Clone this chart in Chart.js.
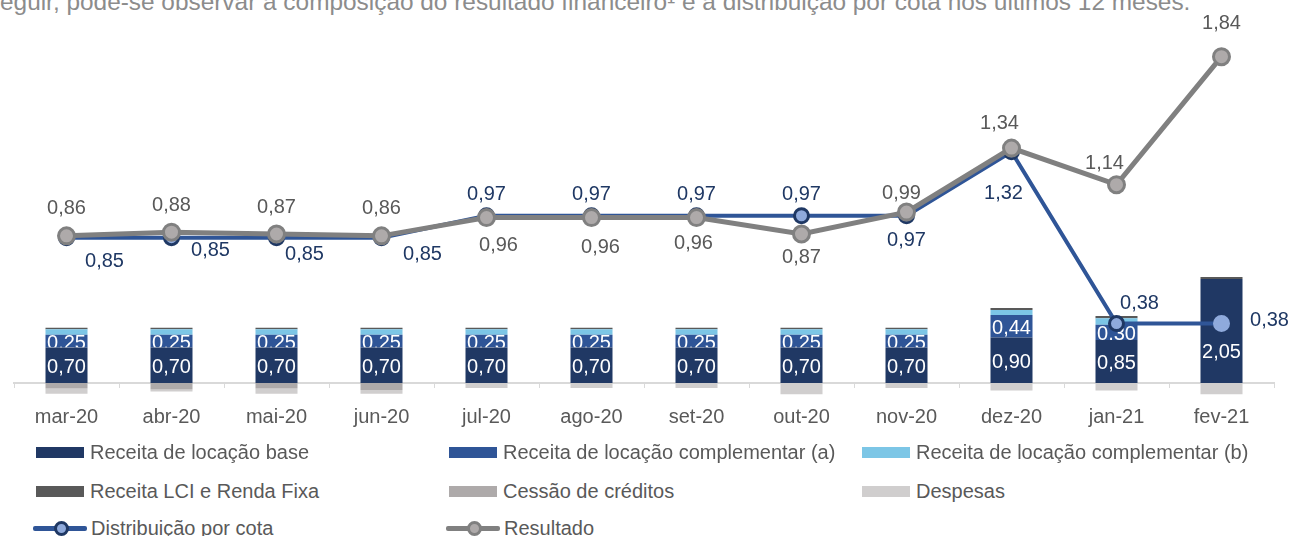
<!DOCTYPE html>
<html lang="pt-BR">
<head>
<meta charset="utf-8">
<title>Resultado financeiro e distribuição por cota</title>
<script src="https://cdn.jsdelivr.net/npm/chart.js@4.4.1/dist/chart.umd.min.js"></script>
<style>
  html, body { margin: 0; padding: 0; background: #fff; }
  body { width: 1293px; height: 536px; position: relative; overflow: hidden; font-family: "Liberation Sans", Arial, sans-serif; }
  #intro { position: absolute; left: 0; top: -12px; font-size: 24.4px; line-height: 28px; color: #8c8c8c; white-space: nowrap; }
  #chart { position: absolute; left: 0; top: 0; }
  .item { position: absolute; height: 24px; display: flex; align-items: center; font-size: 20px; color: #595959; white-space: nowrap; }
  .box { width: 48px; height: 11px; margin-right: 6px; }
  .lineKey { position: relative; width: 54px; height: 16px; margin-right: 4px; }
  .lineKey .bar { position: absolute; left: 0; right: 0; top: 6px; height: 5px; border-radius: 2px; }
  .lineKey .dot { position: absolute; left: 21px; top: 1px; width: 9px; height: 9px; border-radius: 50%; border: 3px solid; }
</style>
</head>
<body>
<div id="intro">eguir, pode-se observar a composição do resultado financeiro¹ e a distribuição por cota nos últimos 12 meses.</div>
<canvas id="chart" width="1293" height="450"></canvas>
<div id="legend"></div>
<script>
// Dados (R$ por cota)
const months = ['mar-20', 'abr-20', 'mai-20', 'jun-20', 'jul-20', 'ago-20', 'set-20', 'out-20', 'nov-20', 'dez-20', 'jan-21', 'fev-21'];
const receitaBase = [0.70, 0.70, 0.70, 0.70, 0.70, 0.70, 0.70, 0.70, 0.70, 0.90, 0.85, 2.05];
const receitaComplA = [0.25, 0.25, 0.25, 0.25, 0.25, 0.25, 0.25, 0.25, 0.25, 0.44, 0.30, 0];
const receitaComplB = [0.11, 0.11, 0.11, 0.11, 0.11, 0.11, 0.11, 0.11, 0.11, 0.10, 0.13, 0];
const receitaLci = [0.03, 0.03, 0.03, 0.03, 0.03, 0.03, 0.03, 0.03, 0.03, 0.04, 0.04, 0.04];
const cessaoCreditos = [-0.11, -0.13, -0.11, -0.14, 0, 0, 0, 0, 0, 0, 0, 0];
const despesas = [-0.10, -0.04, -0.10, -0.07, -0.10, -0.10, -0.10, -0.22, -0.10, -0.15, -0.15, -0.22];
const distribuicao = [0.85, 0.85, 0.85, 0.85, 0.97, 0.97, 0.97, 0.97, 0.97, 1.32, 0.38, 0.38];
const resultado = [0.86, 0.88, 0.87, 0.86, 0.96, 0.96, 0.96, 0.87, 0.99, 1.34, 1.14, 1.84];

// deslocamento dos rótulos das linhas em relação ao ponto
const distOffsets = [[38, 24], [39, 13], [28, 17], [41, 17], [0, -21], [0, -21], [0, -21], [0, -21], [0, 25], [-8, 42], [23, -20], [48, -3]];
const resOffsets = [[0, -27], [0, -27], [0, -27], [0, -27], [12, 28], [9, 30], [-3, 26], [0, 23], [-5, -19], [-12, -25], [-12, -21], [0, -33]];

const FONT = '"Liberation Sans", Arial, sans-serif';

function fmt(v) {
    return Math.abs(v).toFixed(2).replace('.', ',');
}

// Rótulos de valor (sem plugin externo)
const valueLabels = {
    id: 'valueLabels',
    afterDatasetDraw(chart, args) {
        const ds = chart.data.datasets[args.index];
        if (!ds.valueLabels) return;
        const ctx = chart.ctx;
        ctx.save();
        ctx.font = '20px ' + FONT;
        ctx.textAlign = 'center';
        ctx.textBaseline = 'middle';
        ctx.fillStyle = ds.valueLabels.color;
        args.meta.data.forEach(function(el, i) {
            const v = ds.data[i];
            if (!v) return;
            let x, y;
            if (args.meta.type === 'bar') {
                const p = el.getProps(['x', 'y', 'base'], true);
                x = p.x;
                // centro do segmento, mas perto da base nas barras altas
                y = Math.max((p.y + p.base) / 2 + 2, p.base - 31);
            } else {
                const off = ds.valueLabels.offsets[i];
                x = el.x + off[0];
                y = el.y + off[1];
            }
            ctx.fillText(fmt(v), x, y);
        });
        ctx.restore();
    }
};

function barSet(label, data, color, labelColor) {
    const set = {
        type: 'bar',
        label: label,
        data: data,
        backgroundColor: color,
        yAxisID: 'y',
        stack: 'comp',
        order: 3,
        barPercentage: 0.4,
        categoryPercentage: 1,
        clip: false
    };
    if (labelColor) set.valueLabels = { color: labelColor };
    return set;
}

const datasets = [
    barSet('Receita de locação base', receitaBase, '#203864', '#ffffff'),
    barSet('Receita de locação complementar (a)', receitaComplA, '#2f5597', '#ffffff'),
    barSet('Receita de locação complementar (b)', receitaComplB, '#7cc6e6'),
    barSet('Receita LCI e Renda Fixa', receitaLci, '#595959'),
    barSet('Cessão de créditos', cessaoCreditos, '#aeaaaa'),
    barSet('Despesas', despesas, '#d0cece'),
    {
        type: 'line',
        label: 'Distribuição por cota',
        data: distribuicao,
        yAxisID: 'y1',
        borderColor: '#2f5597',
        borderWidth: 4,
        pointRadius: 7,
        pointBorderWidth: 3,
        pointBackgroundColor: '#8faadc',
        pointBorderColor: ['#1f3864', '#1f3864', '#1f3864', '#1f3864', '#1f3864', '#1f3864', '#1f3864', '#1f3864', '#1f3864', '#1f3864', '#1f3864', '#8faadc'],
        order: 2,
        valueLabels: { color: '#1f3864', offsets: distOffsets }
    },
    {
        type: 'line',
        label: 'Resultado',
        data: resultado,
        yAxisID: 'y1',
        borderColor: '#808080',
        borderWidth: 5,
        pointRadius: 8,
        pointBorderWidth: 3,
        pointBackgroundColor: '#aeaaaa',
        pointBorderColor: '#808080',
        order: 1,
        valueLabels: { color: '#595959', offsets: resOffsets }
    }
];

new Chart(document.getElementById('chart'), {
    data: { labels: months, datasets: datasets },
    plugins: [valueLabels],
    options: {
        responsive: false,
        animation: false,
        layout: { padding: { left: 14, right: 19, top: 10, bottom: 4 } },
        plugins: {
            legend: { display: false },
            tooltip: { enabled: false }
        },
        scales: {
            x: {
                stacked: true,
                offset: true,
                z: 1,
                grid: { drawOnChartArea: false, offset: true, tickLength: 5, color: '#d9d9d9', lineWidth: 1 },
                border: { color: '#d9d9d9', width: 2 },
                ticks: { color: '#595959', padding: 17, maxRotation: 0, font: { size: 20, family: FONT } }
            },
            y: { display: false, stacked: true, min: 0, max: 7.34 },
            y1: { display: false, min: 0.055, max: 2.09 }
        }
    }
});

// Legenda em três colunas
const legend = document.getElementById('legend');
const cols = [33, 446, 859];
const rows = [452, 491, 528];
datasets.forEach(function(ds, i) {
    const item = document.createElement('div');
    item.className = 'item';
    item.style.left = cols[i % 3] + 'px';
    item.style.top = (rows[Math.floor(i / 3)] - 12) + 'px';
    let key;
    if (ds.type === 'bar') {
        key = document.createElement('span');
        key.className = 'box';
        key.style.background = ds.backgroundColor;
        key.style.marginLeft = '3px';
    } else {
        key = document.createElement('span');
        key.className = 'lineKey';
        const line = document.createElement('span');
        line.className = 'bar';
        line.style.background = ds.borderColor;
        const dot = document.createElement('span');
        dot.className = 'dot';
        dot.style.background = ds.pointBackgroundColor;
        dot.style.borderColor = Array.isArray(ds.pointBorderColor) ? ds.pointBorderColor[0] : ds.pointBorderColor;
        key.appendChild(line);
        key.appendChild(dot);
    }
    item.appendChild(key);
    item.appendChild(document.createTextNode(ds.label));
    legend.appendChild(item);
});
</script>
</body>
</html>
